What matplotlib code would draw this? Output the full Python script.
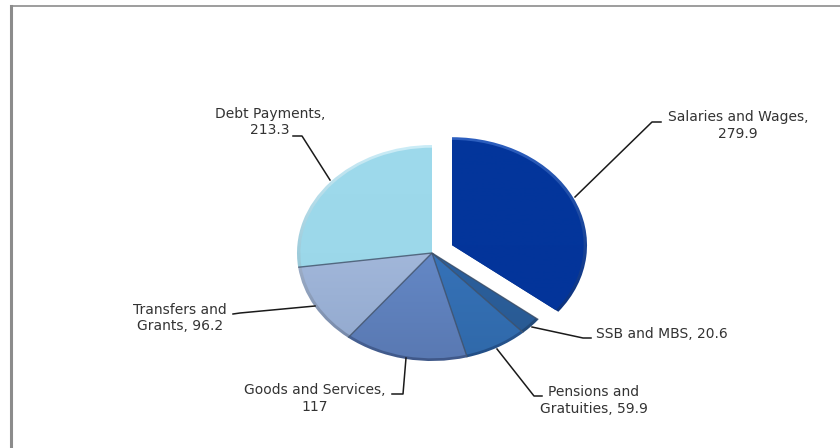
import numpy as np
import matplotlib
matplotlib.use("Agg")
import matplotlib.pyplot as plt
from matplotlib.lines import Line2D
from matplotlib.colors import LinearSegmentedColormap

# values as labelled in the chart
categories = ["Salaries and Wages", "SSB and MBS", "Pensions and Gratuities",
              "Goods and Services", "Transfers and Grants", "Debt Payments"]
values = [279.9, 20.6, 59.9, 117, 96.2, 213.3]
explode = [0.165, 0, 0, 0, 0, 0]

# top / bottom colours of each slice, face and rim
face_top = ["#03369c", "#2f68ac", "#3d7cc8", "#7099dc", "#b4c8e8", "#9edaec"]
face_bot = ["#03349a", "#28588f", "#2f68a8", "#5877b0", "#8fa6cc", "#9ad6e8"]
rim_top = ["#2f62c4", "#3f7ac0", "#4f8cd8", "#86acec", "#e4f0fc", "#d0f0fa"]
rim_bot = ["#022468", "#1c3f68", "#1f4a80", "#3c5484", "#64789c", "#6ca8bc"]

W, H = 840, 448
plt.rcParams["font.family"] = ["DejaVu Sans"]
fig = plt.figure(figsize=(W / 100, H / 100), dpi=100)


def fx(x):
    return x / W


def fy(y):
    return 1 - y / H


def leader(xs, ys):
    fig.add_artist(Line2D([fx(x) for x in xs], [fy(y) for y in ys], color="#1a1a1a", lw=1.1))


def label(x, y, s):
    fig.text(fx(x), fy(y), s, ha="center", va="center", fontsize=10, color="#333333", linespacing=1.25)


# pie centre is at (432, 253) px, radii 135 x 108 px
ax = fig.add_axes([fx(432 - 270), fy(253 + 162), 540 / W, 324 / H])


def gradient_pie(radius, tops, bots, z):
    wedges, _ = ax.pie(values, explode=explode, startangle=90, counterclock=False,
                       radius=radius, colors=tops, normalize=True)
    for w, top, bot in zip(wedges, tops, bots):
        cmap = LinearSegmentedColormap.from_list("g", [top, bot])
        grad = np.linspace(0, 1, 256).reshape(-1, 1)
        cy = w.center[1]
        im = ax.imshow(grad, extent=(-2, 2, cy - 1.1, cy + 1.1), cmap=cmap,
                       origin="upper", aspect="auto", zorder=z)
        im.set_clip_path(w)
        w.set_facecolor("none")
        w.set_edgecolor("none")


gradient_pie(1.0, rim_top, rim_bot, 2)
gradient_pie(0.975, face_top, face_bot, 3)

# dark separators between the slices that stay together
angles = 90 - 360 * np.cumsum(values) / np.sum(values)
for a in angles[:-1]:
    ax.plot([0, np.cos(np.radians(a))], [0, np.sin(np.radians(a))],
            color="#3f5068", lw=1.0, alpha=0.8, zorder=4, solid_capstyle="butt")

ax.set_xlim(-2, 2)
ax.set_ylim(-1.5, 1.5)
ax.set_aspect("auto")
ax.axis("off")

# leader lines
leader([575, 652, 661], [197, 122, 122])
leader([330, 302, 293], [180, 136, 136])
leader([315, 240, 233], [306, 313, 314])
leader([532, 583, 591], [327, 338, 338])
leader([497, 534, 542], [349, 396, 396])
leader([406, 403, 392], [358, 394, 394])

label(738, 125.5, "Salaries and Wages,\n279.9")
label(270, 122, "Debt Payments,\n213.3")
label(180, 318, "Transfers and\nGrants, 96.2")
label(315, 398.5, "Goods and Services,\n117")
label(594, 400.5, "Pensions and\nGratuities, 59.9")
label(662, 334, "SSB and MBS, 20.6")

# chart frame, only top and left edges show
fig.add_artist(Line2D([fx(11), fx(840)], [fy(6.5), fy(6.5)], color="#8c8c8c", lw=1.2))
fig.add_artist(Line2D([fx(11.3), fx(11.3)], [fy(6), fy(448)], color="#8c8c8c", lw=2.2))

fig.savefig("out.png", dpi=100, facecolor="white")
